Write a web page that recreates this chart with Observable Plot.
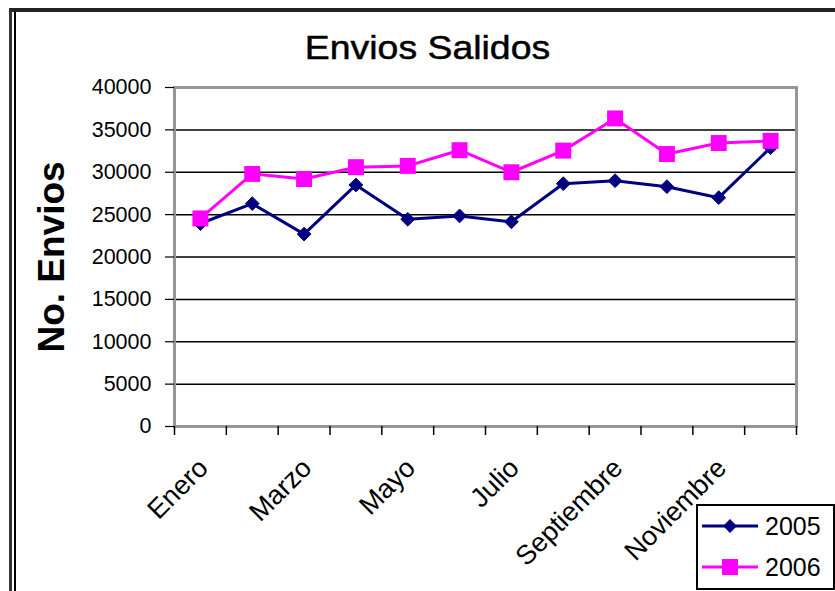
<!DOCTYPE html>
<html>
<head>
<meta charset="utf-8">
<script src="https://cdn.jsdelivr.net/npm/d3@7"></script>
<script src="https://cdn.jsdelivr.net/npm/@observablehq/plot@0.6"></script>
<style>
  html, body { margin: 0; padding: 0; background: #fff; }
  body { font-family: "Liberation Sans", Arial, sans-serif; }
  #wrap { position: relative; width: 835px; height: 591px; overflow: hidden; background: #fff; }
  #chart { position: absolute; left: 0; top: 0; }
  #f1 { position: absolute; left: 9px; top: 8px; width: 900px; height: 700px;
        border-left: 3px solid #333; border-top: 4px solid #222; }
  #f2 { position: absolute; left: 14px; top: 12px; width: 900px; height: 700px;
        border-left: 2px solid #000; }
  #title { position: absolute; left: 0; width: 856px; top: 30px; text-align: center;
           font-size: 34px; line-height: 34px; color: #000; }
  #title span { display: inline-block; transform: scaleX(1.1); -webkit-text-stroke: 0.5px #000; }
  #legend { position: absolute; left: 696px; top: 504px; }
</style>
</head>
<body>
<div id="wrap">
  <div id="f1"></div>
  <div id="f2"></div>
  <div id="chart"></div>
  <div id="title"><span>Envios Salidos</span></div>
  <svg id="legend" width="139" height="87"></svg>
</div>
<script>
// ---- data ----
const months = ["Enero","Febrero","Marzo","Abril","Mayo","Junio","Julio","Agosto","Septiembre","Octubre","Noviembre","Diciembre"];
const envios2005 = [23950, 26300, 22700, 28500, 24450, 24850, 24150, 28650, 29000, 28300, 27000, 32900];
const envios2006 = [24550, 29800, 29200, 30600, 30750, 32600, 30000, 32550, 36350, 32150, 33450, 33700];
const yTicks = [0, 5000, 10000, 15000, 20000, 25000, 30000, 35000, 40000];
const shownMonths = ["Enero","Marzo","Mayo","Julio","Septiembre","Noviembre"];
const seriesNames = ["2005", "2006"];
const seriesColors = ["#000080", "#FF00FF"];
const yLabel = "No. Envios";

const rows2005 = months.map((m, i) => ({pos: i + 0.5, value: envios2005[i]}));
const rows2006 = months.map((m, i) => ({pos: i + 0.5, value: envios2006[i]}));
const labelRows = shownMonths.map(m => ({pos: months.indexOf(m) + 0.5, text: m}));
const boundaries = d3.range(months.length + 1);

const chart = Plot.plot({
  width: 835,
  height: 591,
  marginTop: 87,
  marginLeft: 174,
  marginRight: 39,
  marginBottom: 165,
  x: {domain: [0, months.length], axis: null},
  y: {domain: [0, 40000], axis: null},
  style: {fontFamily: "'Liberation Sans', Arial, sans-serif", background: "transparent", overflow: "visible", color: "#000"},
  marks: [
    Plot.ruleY(yTicks.filter(v => v > 0 && v < 40000), {stroke: "#000", strokeWidth: 1.5}),
    Plot.frame({stroke: "#969696", strokeWidth: 3}),
    Plot.axisY({ticks: yTicks, tickSize: 9, tickPadding: 14, tickFormat: d3.format("d"), fontSize: 21.5, label: null, stroke: "#000", strokeWidth: 1.2}),
    Plot.axisX({ticks: boundaries, tickSize: 9, tickFormat: () => "", label: null, stroke: "#000", strokeWidth: 1.5}),
    Plot.text(labelRows, {x: "pos", y: () => 0, text: "text", rotate: -45, textAnchor: "end", dx: 3, dy: 37, fontSize: 27, fill: "#000"}),
    Plot.text([yLabel], {frameAnchor: "left", textAnchor: "middle", rotate: -90, dx: -122, fontSize: 37, fontWeight: "bold", fill: "#000"}),
    Plot.line(rows2005, {x: "pos", y: "value", stroke: seriesColors[0], strokeWidth: 3}),
    Plot.dot(rows2005, {x: "pos", y: "value", symbol: "diamond2", r: 6.2, fill: seriesColors[0], stroke: seriesColors[0], strokeWidth: 1}),
    Plot.line(rows2006, {x: "pos", y: "value", stroke: seriesColors[1], strokeWidth: 3}),
    Plot.dot(rows2006, {x: "pos", y: "value", symbol: "square", r: 9, fill: seriesColors[1]})
  ]
});
document.getElementById("chart").appendChild(chart);

// ---- legend ----
const lg = d3.select("#legend");
lg.append("rect").attr("x", 1).attr("y", 1).attr("width", 137).attr("height", 84)
  .attr("fill", "#fff").attr("stroke", "#000").attr("stroke-width", 2);
seriesNames.forEach((name, i) => {
  const cy = 22 + i * 41;
  lg.append("line").attr("x1", 6).attr("x2", 62).attr("y1", cy).attr("y2", cy)
    .attr("stroke", seriesColors[i]).attr("stroke-width", 3);
  const sym = i === 0 ? d3.symbolDiamond2 : d3.symbolSquare;
  const size = i === 0 ? Math.PI * 6.2 * 6.2 : Math.PI * 9 * 9;
  lg.append("path").attr("d", d3.symbol(sym, size)()).attr("transform", `translate(34,${cy})`)
    .attr("fill", seriesColors[i]);
  lg.append("text").attr("x", 69).attr("y", cy + 9).text(name)
    .attr("font-family", "'Liberation Sans', Arial, sans-serif").attr("font-size", 25).attr("fill", "#000");
});
</script>
</body>
</html>
